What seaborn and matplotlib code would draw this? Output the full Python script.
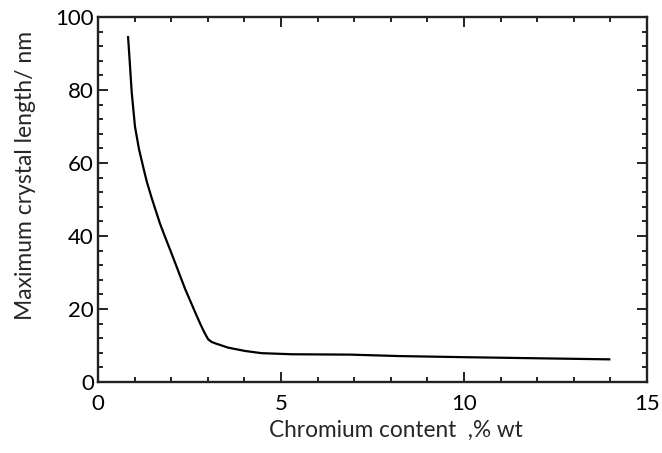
import matplotlib
matplotlib.use("Agg")
import matplotlib.pyplot as plt
import seaborn as sns
import pandas as pd
from matplotlib.ticker import MultipleLocator

chromium = [0.82, 0.87, 0.92, 1.01, 1.12, 1.24, 1.33, 1.47, 1.69, 1.83, 2.01,
            2.38, 2.65, 2.80, 2.92, 3.01, 3.10, 3.20, 3.56, 4.02, 4.47, 5.30,
            6.9, 8.25, 10.0, 12.0, 14.0]
length_nm = [94.8, 87.3, 79.5, 70.0, 63.8, 58.7, 55.0, 50.3, 43.5, 39.8, 35.2,
             25.5, 19.2, 15.8, 13.3, 11.7, 11.0, 10.6, 9.4, 8.5, 7.9, 7.6,
             7.5, 7.1, 6.8, 6.5, 6.2]

x_ticks = [0, 5, 10, 15]
y_ticks = [0, 20, 40, 60, 80, 100]

sns.set_style("ticks")
plt.rcParams['font.family'] = ['Lato', 'DejaVu Sans']

df = pd.DataFrame({"x": chromium, "y": length_nm})

fig = plt.figure(figsize=(6.62, 4.53), dpi=100)
ax = fig.add_axes([98/662, 1-382/453, (647-98)/662, (382-17)/453])
sns.lineplot(data=df, x="x", y="y", ax=ax, color="black", linewidth=1.6, sort=False)
for ln in ax.get_lines():
    ln.set_solid_joinstyle("round")
    ln.set_solid_capstyle("butt")

ax.set_xlim(0, 15)
ax.set_ylim(0, 100)
ax.set_xticks(x_ticks)
ax.set_yticks(y_ticks)
ax.xaxis.set_minor_locator(MultipleLocator(1))
ax.yaxis.set_minor_locator(MultipleLocator(4))
ax.tick_params(which="both", direction="in", top=True, right=True, width=1.4, colors="#222222",
               labelcolor="black", labelsize=16)
ax.tick_params(which="major", length=7)
ax.tick_params(which="minor", length=3.5)
ax.tick_params(axis="y", pad=3)
ax.tick_params(axis="x", pad=9)
for s in ax.spines.values():
    s.set_linewidth(1.7)
    s.set_color("#222222")

ax.set_xlabel("Chromium content  ,% wt", fontsize=16.3)
ax.set_ylabel("Maximum crystal length/ nm", fontsize=16.5)
ax.xaxis.set_label_coords(0.543, -0.104)
ax.yaxis.set_label_coords(-0.113, 0.567)

fig.savefig("out.png", dpi=100)
